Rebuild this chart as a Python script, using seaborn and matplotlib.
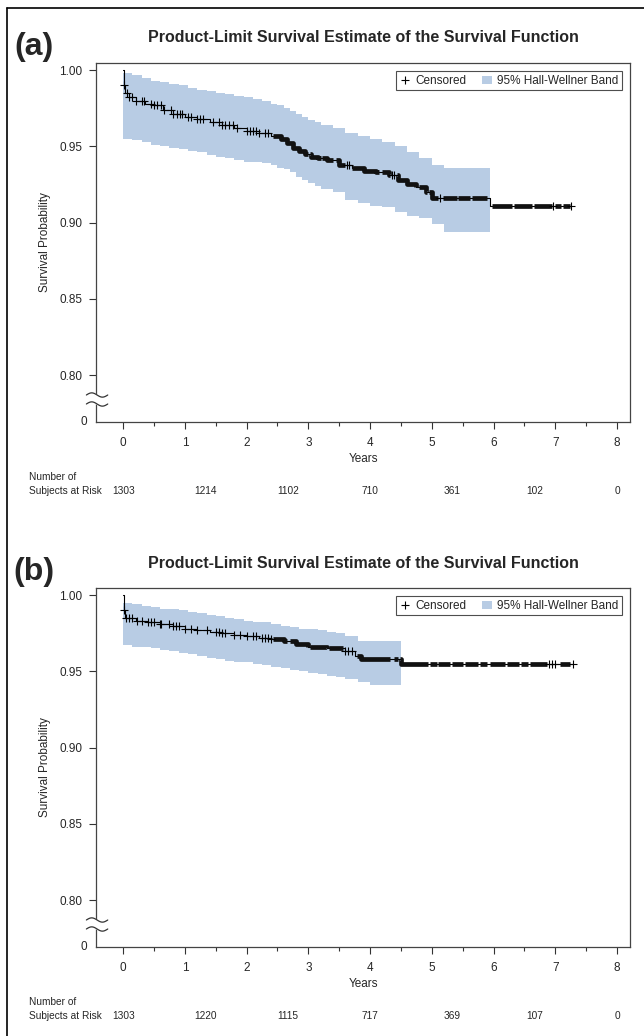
import numpy as np
import pandas as pd
import matplotlib
matplotlib.use('Agg')
import matplotlib.pyplot as plt
import matplotlib.transforms as mtransforms
from matplotlib.lines import Line2D
from matplotlib.patches import Patch
from matplotlib.ticker import MultipleLocator
import seaborn as sns

sns.set_style('ticks')
plt.rcParams['font.family'] = ['Liberation Sans', 'DejaVu Sans']

# ---- panel (a) data ----
time_a = [0, 0.01, 0.03, 0.1, 0.2, 0.35, 0.5, 0.65, 0.8, 1.0, 1.2, 1.4, 1.6, 1.8, 2.0, 2.2,
          2.4, 2.55, 2.65, 2.75, 2.85, 2.95, 3.05, 3.15, 3.3, 3.5, 3.7, 3.9, 4.1, 4.3, 4.45,
          4.6, 4.75, 4.9, 5.0, 5.95]
surv_a = [1.0, 0.99, 0.985, 0.982, 0.980, 0.978, 0.977, 0.974, 0.971, 0.969, 0.968, 0.966,
          0.964, 0.962, 0.960, 0.959, 0.957, 0.955, 0.952, 0.949, 0.947, 0.945, 0.943, 0.942,
          0.941, 0.938, 0.936, 0.934, 0.933, 0.931, 0.928, 0.925, 0.923, 0.920, 0.916, 0.911]
end_a = 7.26
band_t_a = [0, 0.15, 0.3, 0.45, 0.6, 0.75, 0.9, 1.05, 1.2, 1.35, 1.5, 1.65, 1.8, 1.95, 2.1,
            2.25, 2.4, 2.5, 2.6, 2.7, 2.8, 2.9, 3.0, 3.1, 3.2, 3.4, 3.6, 3.8, 4.0, 4.2, 4.4,
            4.6, 4.8, 5.0, 5.2, 5.95]
upper_a = [0.998, 0.997, 0.995, 0.993, 0.992, 0.991, 0.990, 0.988, 0.987, 0.986, 0.985, 0.984,
           0.983, 0.982, 0.981, 0.980, 0.978, 0.977, 0.975, 0.973, 0.971, 0.969, 0.967, 0.966,
           0.964, 0.962, 0.959, 0.957, 0.955, 0.953, 0.950, 0.946, 0.942, 0.938, 0.936, 0.936]
lower_a = [0.955, 0.954, 0.953, 0.951, 0.950, 0.949, 0.948, 0.947, 0.946, 0.944, 0.943, 0.942,
           0.941, 0.940, 0.940, 0.939, 0.938, 0.936, 0.935, 0.933, 0.930, 0.928, 0.926, 0.924,
           0.922, 0.920, 0.915, 0.913, 0.911, 0.910, 0.907, 0.904, 0.903, 0.899, 0.894, 0.892]
cens_a = [0.02, 0.06, 0.1, 0.14, 0.2, 0.3, 0.33, 0.45, 0.5, 0.55, 0.62, 0.66, 0.78, 0.8, 0.87,
          0.92, 0.96, 1.05, 1.1, 1.2, 1.25, 1.3, 1.45, 1.55, 1.6, 1.65, 1.72, 1.78, 1.85, 2.0,
          2.05, 2.1, 2.15, 2.2, 2.3, 2.35, 3.62, 3.66, 4.36, 4.39, 5.14, 6.97, 7.26]
# stretches where the censor marks merge into a solid bar
blocks_a = [(2.43, 3.00), (3.02, 3.20), (3.22, 3.40), (3.45, 3.60), (3.70, 4.15), (4.20, 4.32),
            (4.43, 4.75), (4.80, 4.92), (4.95, 5.10), (5.18, 5.40), (5.43, 5.62), (5.65, 5.90),
            (5.97, 6.30), (6.33, 6.62), (6.66, 6.95), (7.00, 7.10), (7.13, 7.24)]
risk_a = [1303, 1214, 1102, 710, 361, 102, 0]

# ---- panel (b) data ----
time_b = [0, 0.01, 0.03, 0.2, 0.4, 0.6, 0.8, 1.0, 1.2, 1.4, 1.6, 1.8, 2.0, 2.2, 2.4, 2.6,
          2.8, 3.0, 3.3, 3.6, 3.75, 3.85, 4.5]
surv_b = [1.0, 0.99, 0.985, 0.983, 0.982, 0.981, 0.980, 0.978, 0.977, 0.976, 0.975, 0.974,
          0.973, 0.972, 0.971, 0.970, 0.968, 0.966, 0.965, 0.963, 0.960, 0.958, 0.955]
end_b = 7.28
band_t_b = [0, 0.15, 0.3, 0.45, 0.6, 0.75, 0.9, 1.05, 1.2, 1.35, 1.5, 1.65, 1.8, 1.95, 2.1,
            2.25, 2.4, 2.55, 2.7, 2.85, 3.0, 3.15, 3.3, 3.45, 3.6, 3.8, 4.0, 4.5]
upper_b = [0.995, 0.994, 0.993, 0.992, 0.991, 0.991, 0.990, 0.989, 0.988, 0.987, 0.986, 0.985,
           0.984, 0.983, 0.982, 0.982, 0.981, 0.980, 0.979, 0.978, 0.978, 0.977, 0.976, 0.975,
           0.973, 0.970, 0.970, 0.970]
lower_b = [0.967, 0.966, 0.966, 0.965, 0.964, 0.963, 0.962, 0.961, 0.960, 0.959, 0.958, 0.957,
           0.956, 0.956, 0.955, 0.954, 0.953, 0.952, 0.951, 0.950, 0.949, 0.948, 0.947, 0.946,
           0.945, 0.943, 0.941, 0.941]
cens_b = [0.02, 0.05, 0.1, 0.15, 0.22, 0.3, 0.4, 0.45, 0.5, 0.6, 0.62, 0.75, 0.8, 0.85, 0.9,
          1.0, 1.1, 1.2, 1.35, 1.5, 1.55, 1.6, 1.65, 1.8, 1.9, 2.0, 2.1, 2.15, 2.25, 2.3, 2.35,
          2.4, 3.6, 3.65, 3.7, 6.9, 6.95, 7.0, 7.28]
blocks_b = [(2.43, 2.65), (2.70, 3.00), (3.03, 3.30), (3.33, 3.56), (3.78, 4.32), (4.38, 4.45),
            (4.48, 4.94), (4.97, 5.08), (5.10, 5.30), (5.33, 5.50), (5.53, 5.74), (5.78, 5.90),
            (5.94, 6.18), (6.21, 6.42), (6.45, 6.55), (6.59, 6.86), (7.07, 7.23)]
risk_b = [1303, 1220, 1115, 717, 369, 107, 0]

risk_times = [0, 4 / 3, 8 / 3, 4, 16 / 3, 20 / 3, 8]
band_color = '#b8cce4'
W, H = 644, 1036

fig = plt.figure(figsize=(W / 100, H / 100), dpi=100)


def step_value(time, surv, t):
    idx = np.searchsorted(time, t, side='right') - 1
    return np.asarray(surv)[idx]


def draw_panel(label, off, time, surv, end, band_t, upper, lower, cens, blocks, risk):
    left, right = 96, 630
    top, bottom = 63 + off, 422 + off
    ax = fig.add_axes([left / W, 1 - bottom / H, (right - left) / W, (bottom - top) / H])

    ax.fill_between(band_t, lower, upper, step='post', color=band_color, lw=0, zorder=1)

    curve = pd.DataFrame({'t': time + [end], 's': surv + [surv[-1]]})
    sns.lineplot(data=curve, x='t', y='s', drawstyle='steps-post', color='black', lw=0.8,
                 estimator=None, sort=False, ax=ax, zorder=3)

    for s, e in blocks:
        pts = [s] + [t for t in time if s < t < e] + [e]
        vals = step_value(time, surv, pts)
        ax.plot(pts, vals, drawstyle='steps-post', color='#111111', lw=3.4,
                solid_capstyle='butt', zorder=4)

    cdf = pd.DataFrame({'t': cens, 's': step_value(time, surv, cens)})
    sns.scatterplot(data=cdf, x='t', y='s', marker='+', s=28, color='black', linewidth=0.8,
                    ax=ax, zorder=5)

    ylo = 0.80 - 47 / 1525
    ax.set_xlim(-0.44, 8.21)
    ax.set_ylim(ylo, 1.0046)
    ax.set_xticks(range(9))
    ax.xaxis.set_minor_locator(MultipleLocator(0.5))
    ax.set_yticks([0.80, 0.85, 0.90, 0.95, 1.00])
    ax.set_yticklabels(['0.80', '0.85', '0.90', '0.95', '1.00'])
    ax.tick_params(axis='both', which='major', direction='out', length=5, width=0.8,
                   labelsize=8.5, color='#333333', pad=5)
    ax.tick_params(axis='x', which='minor', direction='out', length=3, width=0.8, color='#333333')
    ax.tick_params(axis='x', which='major', pad=6)
    for sp in ax.spines.values():
        sp.set_visible(True)
        sp.set_color('#444444')
        sp.set_linewidth(0.9)

    ax.set_xlabel('Years', fontsize=8.5, labelpad=3)
    ax.set_ylabel('Survival Probability', fontsize=8.5, labelpad=6)

    # "0" at the foot of the broken axis
    ytr = ax.get_yaxis_transform()
    ax.text(-0.016, ylo, '0', transform=ytr, ha='right', va='center', fontsize=8.5)

    # axis break marks
    xs = np.linspace(-0.018, 0.022, 40)
    wave = 0.0014 * np.sin(2 * np.pi * (xs + 0.018) / 0.04)
    y1, y2 = 0.80 - 20 / 1525, 0.80 - 29 / 1525
    ax.fill_between(xs, y2 + wave, y1 + wave, color='white', transform=ytr, clip_on=False, zorder=6)
    ax.plot(xs, y1 + wave, color='#333333', lw=0.9, transform=ytr, clip_on=False, zorder=7)
    ax.plot(xs, y2 + wave, color='#333333', lw=0.9, transform=ytr, clip_on=False, zorder=7)

    handles = [Line2D([], [], marker='+', ls='none', color='black', ms=6, mew=0.8, label='Censored'),
               Patch(facecolor=band_color, edgecolor='none', label='95% Hall-Wellner Band')]
    leg = ax.legend(handles=handles, loc='upper right', ncol=2, fontsize=8.5, frameon=True,
                    fancybox=False, edgecolor='#222222', handlelength=0.9, handletextpad=0.4,
                    columnspacing=1.3, borderaxespad=0.7, borderpad=0.3)
    leg.get_frame().set_linewidth(0.8)

    # titles
    fig.text(363 / W, 1 - (38 + off) / H, 'Product-Limit Survival Estimate of the Survival Function',
             ha='center', va='center', fontsize=11.5, fontweight='bold')
    fig.text(34 / W, 1 - (47 + off) / H, label, ha='center', va='center', fontsize=23,
             fontweight='bold')

    # number at risk table
    tr = mtransforms.blended_transform_factory(ax.transData, fig.transFigure)
    fig.text(29 / W, 1 - (477 + off) / H, 'Number of', ha='left', va='center', fontsize=7.3)
    fig.text(29 / W, 1 - (491 + off) / H, 'Subjects at Risk', ha='left', va='center', fontsize=7.3)
    for t, n in zip(risk_times, risk):
        ax.text(t, 1 - (491 + off) / H, str(n), transform=tr, ha='center', va='center', fontsize=7.3)
    return ax


draw_panel('(a)', 0, time_a, surv_a, end_a, band_t_a, upper_a, lower_a, cens_a, blocks_a, risk_a)
draw_panel('(b)', 525, time_b, surv_b, end_b, band_t_b, upper_b, lower_b, cens_b, blocks_b, risk_b)

# outer frame
fig.add_artist(Line2D([7 / W, 7 / W], [0, 1 - 8 / H], color='black', lw=1.2))
fig.add_artist(Line2D([7 / W, 1], [1 - 8 / H, 1 - 8 / H], color='black', lw=1.2))

fig.savefig('out.png', dpi=100)
